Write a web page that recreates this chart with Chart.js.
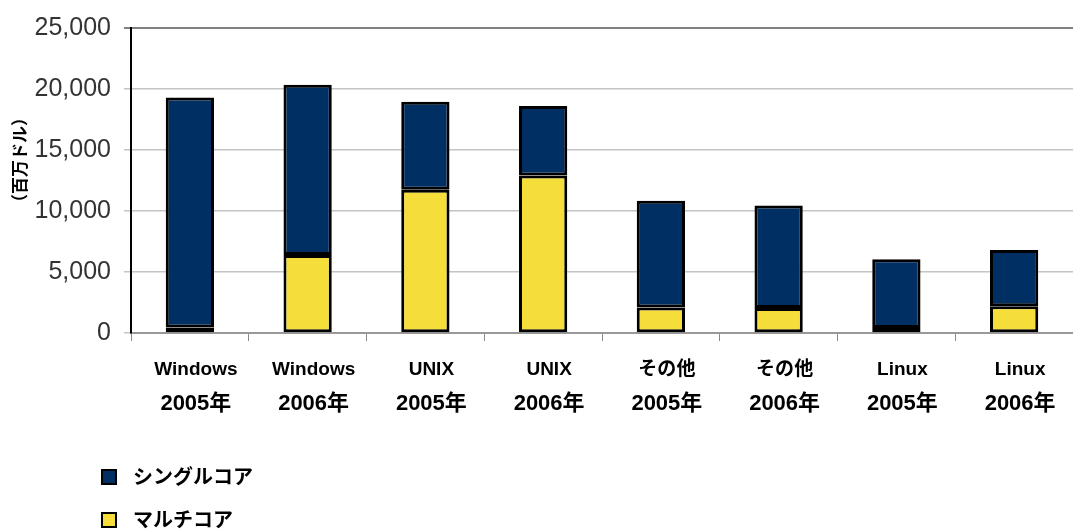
<!DOCTYPE html>
<html>
<head>
<meta charset="utf-8">
<script src="https://cdn.jsdelivr.net/npm/chart.js@4.4.0/dist/chart.umd.min.js"></script>
<style>
  body { margin: 0; background: #fff; }
</style>
</head>
<body>
<canvas id="chart" width="1073" height="530"></canvas>
<script>
const names = ['Windows', 'Windows', 'UNIX', 'UNIX', 'その他', 'その他', 'Linux', 'Linux'];
const years = ['2005年', '2006年', '2005年', '2006年', '2005年', '2006年', '2005年', '2006年'];
const singleCore = [18850, 13950, 7200, 5700, 8750, 8400, 5650, 4600];
const multiCore = [450, 6400, 11750, 12900, 2100, 2050, 400, 2200];
const yTicks = [0, 5000, 10000, 15000, 20000, 25000];
const yTitle = '（百万ドル）';

const navy = '#002f63';
const yellow = '#f6de3a';
const cjk = '"Liberation Sans", "Noto Sans CJK JP", sans-serif';

// draws the two-line category labels, y title and the legend
const extras = {
  id: 'extras',
  afterDraw(c) {
    const ctx = c.ctx;
    const x = c.scales.x;
    ctx.save();
    ctx.fillStyle = '#000';
    ctx.textAlign = 'center';
    ctx.textBaseline = 'middle';
    names.forEach((n, i) => {
      const px = x.getPixelForValue(i) + 6;
      ctx.font = 'bold 19px ' + cjk;
      ctx.fillText(n, px, 370);
      ctx.font = 'bold 22px ' + cjk;
      ctx.fillText(years[i], px, 404);
    });

    // y axis title
    ctx.save();
    ctx.translate(20, 160);
    ctx.rotate(-Math.PI / 2);
    ctx.font = 'bold 17px "Noto Sans CJK JP", sans-serif';
    ctx.fillText(yTitle, 0, 0);
    ctx.restore();

    // legend
    const rows = [476, 519];
    c.data.datasets.forEach((ds, k) => {
      const y = rows[k];
      ctx.fillStyle = ds.backgroundColor;
      ctx.strokeStyle = '#000';
      ctx.lineWidth = 2;
      ctx.fillRect(102, y - 6, 14, 14);
      ctx.strokeRect(102, y - 6, 14, 14);
      ctx.fillStyle = '#000';
      ctx.textAlign = 'left';
      ctx.font = 'bold 20px "Noto Sans CJK JP", sans-serif';
      ctx.fillText(ds.label, 133, y);
    });
    ctx.restore();
  }
};

new Chart(document.getElementById('chart'), {
  type: 'bar',
  data: {
    labels: names.map((n, i) => n + ' ' + years[i]),
    datasets: [
      {
        label: 'シングルコア',
        data: singleCore,
        backgroundColor: navy,
        borderColor: '#000',
        borderWidth: 3,
        borderSkipped: false,
        barPercentage: 0.41,
        categoryPercentage: 1,
        order: 1
      },
      {
        label: 'マルチコア',
        data: multiCore,
        backgroundColor: yellow,
        borderColor: '#000',
        borderWidth: 3,
        borderSkipped: false,
        barPercentage: 0.41,
        categoryPercentage: 1,
        order: 0
      }
    ]
  },
  options: {
    responsive: false,
    animation: false,
    layout: { padding: { top: 24, right: -8, left: 0, bottom: 0 } },
    plugins: {
      legend: { display: false },
      tooltip: { enabled: false }
    },
    scales: {
      x: {
        stacked: true,
        afterFit: s => { s.height = 197; },
        ticks: { display: false },
        grid: { drawOnChartArea: false, drawTicks: true, tickLength: 8, color: '#888', offset: true },
        border: { color: '#999', width: 2 }
      },
      y: {
        stacked: true,
        min: 0,
        max: 25000,
        afterFit: s => { s.width = 131; },
        afterBuildTicks: s => { s.ticks = yTicks.map(v => ({ value: v })); },
        ticks: {
          font: { family: '"Liberation Sans", Arial, sans-serif', size: 25 },
          color: '#333',
          padding: 13,
          callback: v => v.toLocaleString('en-US')
        },
        grid: {
          color: ctx => ctx.tick && ctx.tick.value === 25000 ? '#808080' : '#c4c4c4',
          lineWidth: ctx => ctx.tick && ctx.tick.value === 25000 ? 2 : 1.5,
          tickLength: 7
        },
        border: { color: '#000', width: 2 }
      }
    }
  },
  plugins: [extras]
});
</script>
</body>
</html>
